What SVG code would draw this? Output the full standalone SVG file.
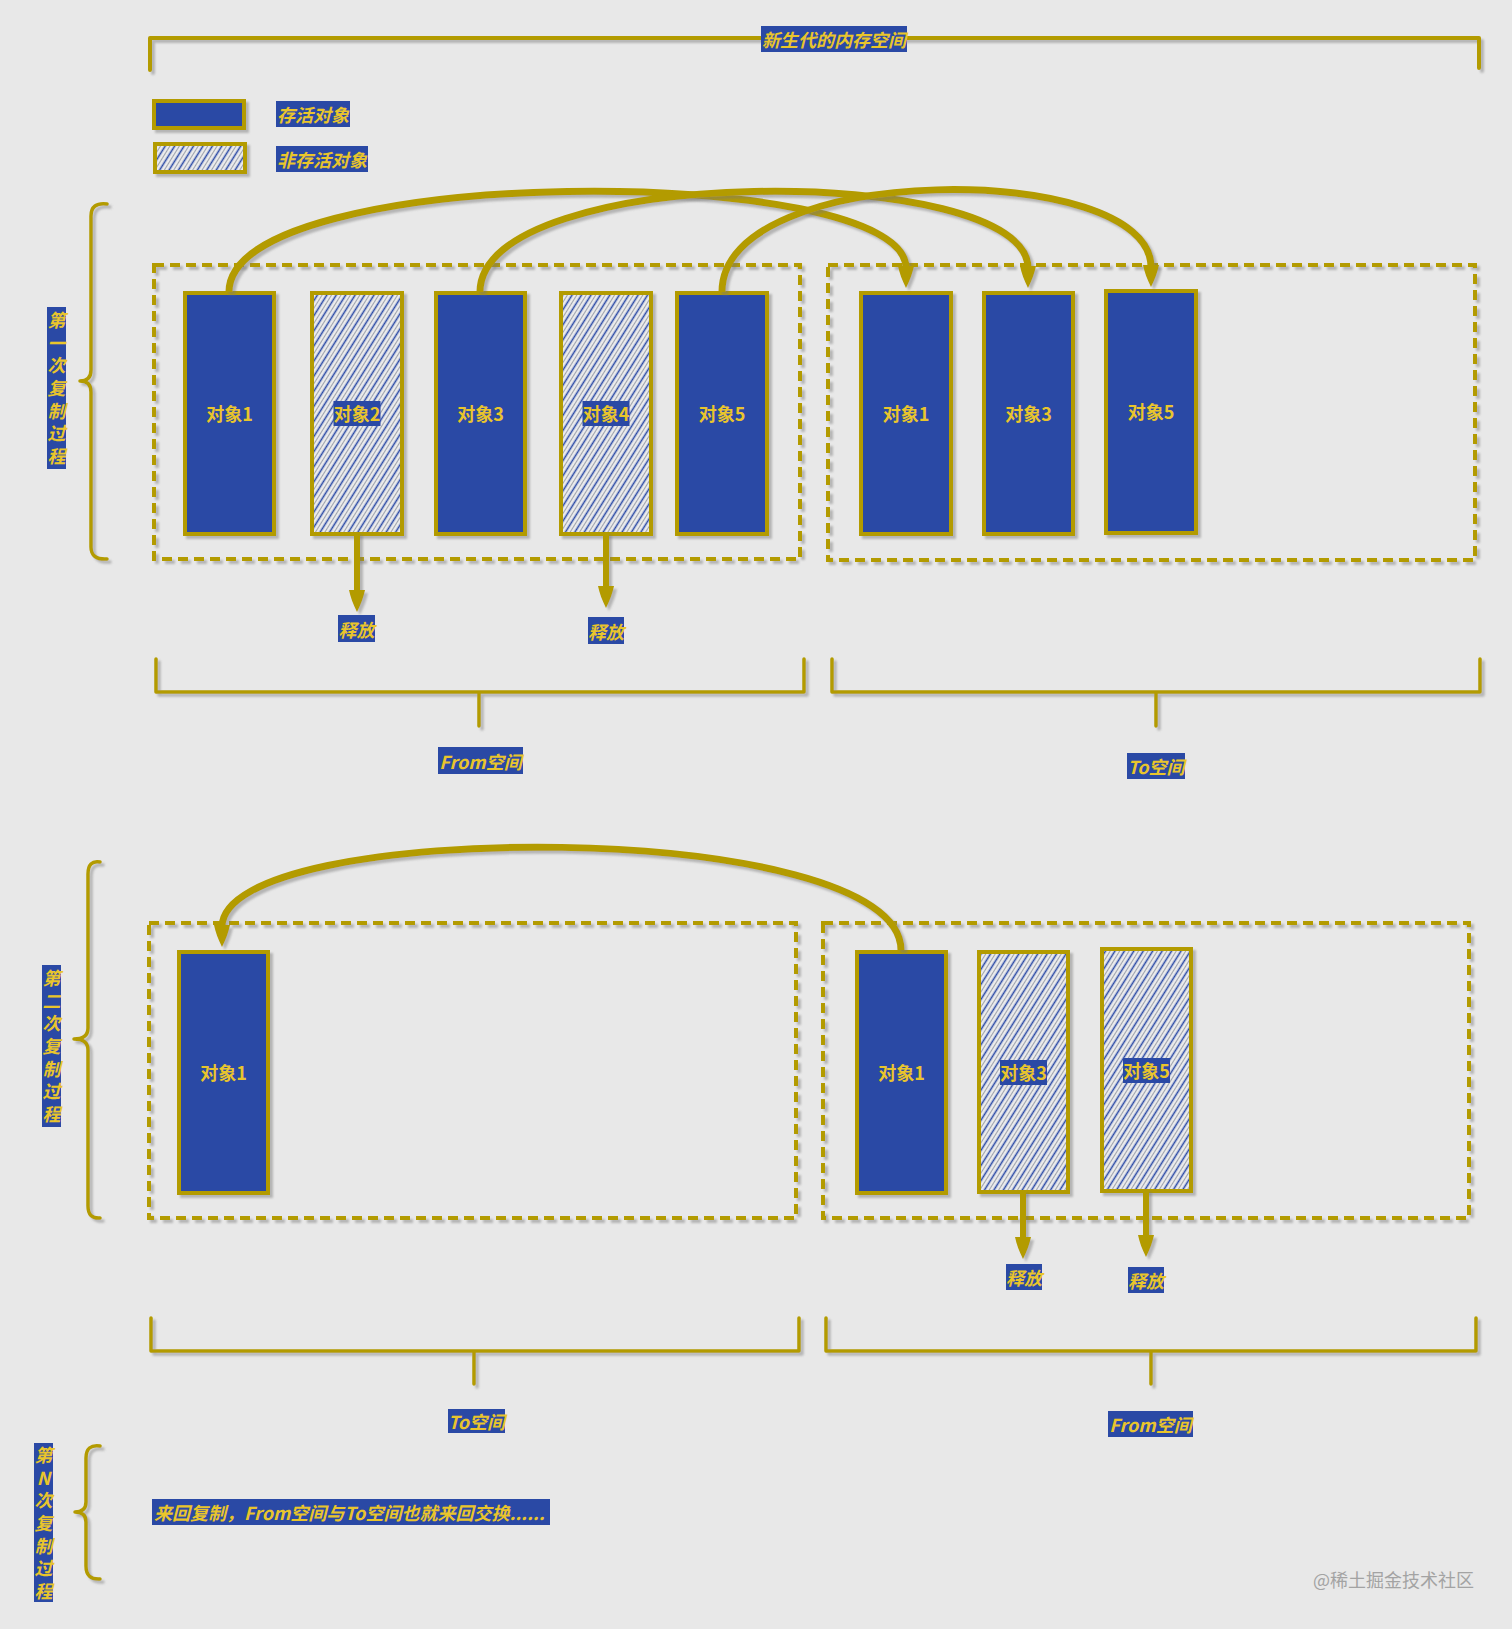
<svg xmlns="http://www.w3.org/2000/svg" width="1512" height="1629" viewBox="0 0 1512 1629">
<style>
.ln{fill:none;stroke:#b39b00;stroke-width:4;stroke-linecap:round;stroke-linejoin:round}
.br{fill:none;stroke:#b39b00;stroke-width:3.5;stroke-linecap:round;stroke-linejoin:round}
.dash{fill:none;stroke:#b39b00;stroke-width:4;stroke-dasharray:10 6}
.obj{fill:#2a49a5;stroke:#b39b00;stroke-width:4}
.dead{fill:url(#hatch);stroke:#b39b00;stroke-width:4}
.arc{fill:none;stroke:#b39b00;stroke-width:7;marker-end:url(#ah)}
.rel{fill:none;stroke:#b39b00;stroke-width:6;marker-end:url(#ah)}
.box{fill:#2a49a5}
.t{font-family:"Noto Sans CJK SC","Noto Sans",sans-serif;font-weight:700;fill:#e9c52c;font-size:18px;font-style:italic;text-anchor:middle;dominant-baseline:central}
.ot{font-style:normal}
.vt{font-family:"Noto Sans CJK SC","Noto Sans",sans-serif;font-weight:700;fill:#e9c52c;font-size:18px;font-style:italic;writing-mode:vertical-rl;text-orientation:upright;letter-spacing:4.7px}
.wm{font-family:"Noto Sans CJK SC","Noto Sans",sans-serif;fill:#a3a3a3;font-size:18px}
</style>
<defs>
<pattern id="hatch" patternUnits="userSpaceOnUse" width="8" height="10" patternTransform="rotate(32)">
<rect width="8" height="10" fill="#ededed"/>
<line x1="1.5" y1="0" x2="1.5" y2="10" stroke="#2a49a5" stroke-width="1.6"/>
<line x1="5.5" y1="0" x2="5.5" y2="10" stroke="#9ea3ad" stroke-width="1.1"/>
</pattern>
<marker id="ah" viewBox="0 -10 24 20" markerWidth="24" markerHeight="20" refX="2" refY="0" orient="auto" markerUnits="userSpaceOnUse">
<path d="M0,-8 Q10,-6 22,0 Q10,6 0,8 Z" fill="#b39b00"/>
</marker>
<filter id="sh" filterUnits="userSpaceOnUse" x="0" y="0" width="1512" height="1629">
<feDropShadow dx="3" dy="3" stdDeviation="1" flood-color="#777" flood-opacity="0.45"/>
</filter>
</defs>
<rect width="1512" height="1629" fill="#e8e8e8"/>

<g id="header">
<path class="ln" filter="url(#sh)" d="M150,70 L150,38 L1479,38 L1479,68"/>
<rect class="box" x="761" y="26" width="146" height="26"/>
<text class="t" x="834" y="39">新生代的内存空间</text>
</g>

<g id="legend">
<g id="legend-alive">
<rect class="obj" filter="url(#sh)" x="154" y="101" width="90" height="27"/>
<rect class="box" x="276" y="101" width="74" height="26"/>
<text class="t" x="313" y="114">存活对象</text>
</g>
<g id="legend-dead">
<rect class="dead" filter="url(#sh)" x="155" y="144" width="90" height="28"/>
<rect class="box" x="276" y="146" width="92" height="26"/>
<text class="t" x="322" y="159">非存活对象</text>
</g>
</g>

<g id="round1">
<g id="round1-label">
<path class="br" filter="url(#sh)" d="M107,204 Q91,202 91,216 L91,370 Q91,381 80,381 Q91,381 91,392 L91,547 Q91,560 107,559"/>
<rect class="box" x="47" y="307" width="19" height="162"/>
<text class="vt" x="56.5" y="311">第一次复制过程</text>
</g>
<g id="r1-from-space"><rect class="dash" filter="url(#sh)" x="154" y="265" width="646" height="294"/></g>
<g id="r1-to-space"><rect class="dash" filter="url(#sh)" x="828" y="265" width="647" height="295"/></g>
<g id="r1-from-obj1"><rect class="obj" filter="url(#sh)" x="185" y="293" width="89" height="241"/><text class="t ot" x="229.5" y="413">对象1</text></g>
<g id="r1-from-obj2"><rect class="dead" filter="url(#sh)" x="312" y="293" width="90" height="241"/><rect class="box" x="333.5" y="401" width="47" height="25"/><text class="t ot" x="357" y="413">对象2</text></g>
<g id="r1-from-obj3"><rect class="obj" filter="url(#sh)" x="436" y="293" width="89" height="241"/><text class="t ot" x="480.5" y="413">对象3</text></g>
<g id="r1-from-obj4"><rect class="dead" filter="url(#sh)" x="561" y="293" width="90" height="241"/><rect class="box" x="582.5" y="401" width="47" height="25"/><text class="t ot" x="606" y="413">对象4</text></g>
<g id="r1-from-obj5"><rect class="obj" filter="url(#sh)" x="677" y="293" width="90" height="241"/><text class="t ot" x="722" y="413">对象5</text></g>
<g id="r1-to-obj1"><rect class="obj" filter="url(#sh)" x="861" y="293" width="90" height="241"/><text class="t ot" x="906" y="413">对象1</text></g>
<g id="r1-to-obj3"><rect class="obj" filter="url(#sh)" x="984" y="293" width="89" height="241"/><text class="t ot" x="1028.5" y="413">对象3</text></g>
<g id="r1-to-obj5"><rect class="obj" filter="url(#sh)" x="1106" y="291" width="90" height="242"/><text class="t ot" x="1151" y="411">对象5</text></g>
<g id="r1-release2"><rect class="box" x="338" y="615" width="37" height="27"/><text class="t" x="356.5" y="628.5">释放</text></g>
<g id="r1-release4"><rect class="box" x="588" y="617" width="36" height="27"/><text class="t" x="606" y="630.5">释放</text></g>
<g id="r1-from-bracket">
<path class="br" filter="url(#sh)" d="M156,659 L156,692 L804,692 L804,659 M479,692 L479,726"/>
<rect class="box" x="438" y="747" width="85" height="27"/>
<text class="t" x="480.5" y="760.5">From空间</text>
</g>
<g id="r1-to-bracket">
<path class="br" filter="url(#sh)" d="M832,659 L832,692 L1480,692 L1480,659 M1156,692 L1156,726"/>
<rect class="box" x="1127" y="753" width="58" height="26"/>
<text class="t" x="1156" y="766">To空间</text>
</g>
</g>

<g id="round2">
<g id="round2-label">
<path class="br" filter="url(#sh)" d="M100,862 Q88,860 88,874 L88,1028 Q88,1039 74,1039 Q88,1039 88,1050 L88,1206 Q88,1219 100,1218"/>
<rect class="box" x="42" y="965" width="19" height="162"/>
<text class="vt" x="51.5" y="969">第二次复制过程</text>
</g>
<g id="r2-to-space"><rect class="dash" filter="url(#sh)" x="149" y="923" width="647" height="295"/></g>
<g id="r2-from-space"><rect class="dash" filter="url(#sh)" x="823" y="923" width="646" height="295"/></g>
<g id="r2-to-obj1"><rect class="obj" filter="url(#sh)" x="179" y="952" width="89" height="241"/><text class="t ot" x="223.5" y="1072">对象1</text></g>
<g id="r2-from-obj1"><rect class="obj" filter="url(#sh)" x="857" y="952" width="89" height="241"/><text class="t ot" x="901.5" y="1072">对象1</text></g>
<g id="r2-from-obj3"><rect class="dead" filter="url(#sh)" x="979" y="952" width="89" height="240"/><rect class="box" x="1000" y="1060" width="47" height="25"/><text class="t ot" x="1023.5" y="1072">对象3</text></g>
<g id="r2-from-obj5"><rect class="dead" filter="url(#sh)" x="1102" y="949" width="89" height="242"/><rect class="box" x="1123" y="1058" width="47" height="25"/><text class="t ot" x="1146.5" y="1070">对象5</text></g>
<g id="r2-release3"><rect class="box" x="1006" y="1264" width="36" height="26"/><text class="t" x="1024" y="1277">释放</text></g>
<g id="r2-release5"><rect class="box" x="1128" y="1267" width="36" height="26"/><text class="t" x="1146" y="1280">释放</text></g>
<g id="r2-to-bracket">
<path class="br" filter="url(#sh)" d="M151,1318 L151,1351 L799,1351 L799,1318 M474,1351 L474,1384"/>
<rect class="box" x="448" y="1409" width="57" height="24"/>
<text class="t" x="476.5" y="1421">To空间</text>
</g>
<g id="r2-from-bracket">
<path class="br" filter="url(#sh)" d="M826,1318 L826,1351 L1476,1351 L1476,1318 M1151,1351 L1151,1384"/>
<rect class="box" x="1108" y="1411" width="85" height="26"/>
<text class="t" x="1150.5" y="1424">From空间</text>
</g>
</g>

<g id="roundN">
<g id="roundN-label">
<path class="br" filter="url(#sh)" d="M100,1446 Q86,1444 86,1458 L86,1502 Q86,1512 75,1512 Q86,1512 86,1522 L86,1566 Q86,1580 100,1579"/>
<rect class="box" x="34" y="1443" width="19" height="159"/>
<text class="vt" x="43.5" y="1446">第N次复制过程</text>
</g>
<g id="roundN-text">
<rect class="box" x="152" y="1499" width="398" height="26"/>
<text class="t" x="154" y="1512" style="text-anchor:start">来回复制，From空间与To空间也就来回交换......</text>
</g>
</g>

<g id="connectors">
<path class="arc" filter="url(#sh)" d="M229,292 C229,162 906,162 906,268"/>
<path class="arc" filter="url(#sh)" d="M480,292 C480,162 1028,162 1028,268"/>
<path class="arc" filter="url(#sh)" d="M722,292 C722,160 1151,160 1151,267"/>
<path class="rel" filter="url(#sh)" d="M357,532 L357,592"/>
<path class="rel" filter="url(#sh)" d="M606,532 L606,588"/>
<path class="arc" filter="url(#sh)" d="M901,950 C901,817 222,817 222,927"/>
<path class="rel" filter="url(#sh)" d="M1023,1190 L1023,1239"/>
<path class="rel" filter="url(#sh)" d="M1146,1189 L1146,1237"/>
</g>

<text class="wm" x="1313" y="1587">@稀土掘金技术社区</text>
</svg>
